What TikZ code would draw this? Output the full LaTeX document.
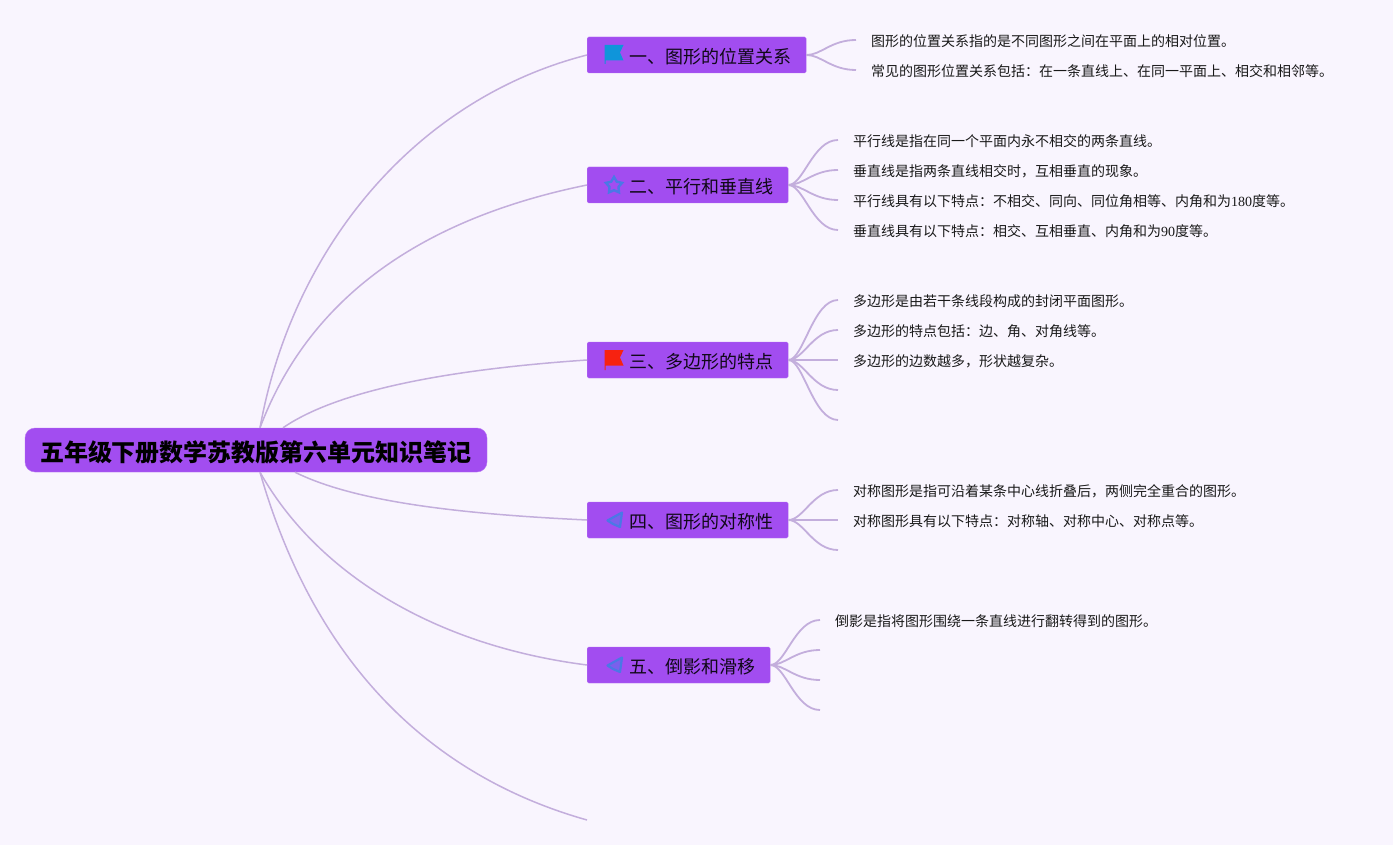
\documentclass[tikz,border=0pt]{standalone}
\usepackage{fontspec}
\setmainfont{Noto Sans CJK SC}
\newfontfamily\numfont{Liberation Serif}
\usetikzlibrary{shapes.geometric}
\definecolor{pagebg}{HTML}{F9F5FE}
\definecolor{boxfill}{HTML}{A24DF0}
\definecolor{boxline}{HTML}{B673F2}
\definecolor{edgeline}{HTML}{C3AEDC}
\definecolor{flagblue}{HTML}{0F95DA}
\definecolor{flagred}{HTML}{F72210}
\definecolor{iconblue}{HTML}{4A78E6}
\tikzset{
  root/.style={draw=boxline,fill=boxfill,rounded corners=10pt,inner xsep=15pt,inner ysep=0pt,minimum height=44pt,text height=23.2pt,text depth=0pt,font=\fontsize{24}{28}\selectfont\bfseries},
  branch/.style={anchor=west,draw=boxline,fill=boxfill,rounded corners=1.5pt,inner xsep=0pt,inner ysep=0pt,minimum height=36pt,text height=16.6pt,text depth=0pt,text=black!90!boxfill,font=\fontsize{18}{22}\selectfont,execute at begin node=\hspace{42pt},execute at end node=\hspace{15pt}},
  leaf/.style={anchor=west,inner xsep=15pt,inner ysep=0pt,text height=13.6pt,text depth=0pt,text=black!90,font=\fontsize{14}{18}\selectfont},
  edge/.style={draw=edgeline,line width=1.5pt},
  sub/.style={draw=edgeline,line width=1.8pt},
  icon/.style={draw=iconblue,fill=iconblue!45!boxfill,line width=2.2pt,line join=round},
}
\begin{document}
\begin{tikzpicture}[x=1pt,y=-1pt]
  \fill[pagebg] (0,0) rectangle (1393,845);

  \node (root) at (256,450)[root]{五年级下册数学苏教版第六单元知识笔记};

  \node (one) at (587,55)[branch]{一、图形的位置关系};
  \node (two) at (587,185)[branch]{二、平行和垂直线};
  \node (three) at (587,360)[branch]{三、多边形的特点};
  \node (four) at (587,520)[branch]{四、图形的对称性};
  \node (five) at (587,665)[branch]{五、倒影和滑移};
  \coordinate (six) at (587,820);

  \node (a1) at (856,40)[leaf]{图形的位置关系指的是不同图形之间在平面上的相对位置。};
  \node (a2) at (856,70)[leaf]{常见的图形位置关系包括：在一条直线上、在同一平面上、相交和相邻等。};

  \node (b1) at (838,140)[leaf]{平行线是指在同一个平面内永不相交的两条直线。};
  \node (b2) at (838,170)[leaf]{垂直线是指两条直线相交时，互相垂直的现象。};
  \node (b3) at (838,200)[leaf]{平行线具有以下特点：不相交、同向、同位角相等、内角和为{\numfont 180}度等。};
  \node (b4) at (838,230)[leaf]{垂直线具有以下特点：相交、互相垂直、内角和为{\numfont 90}度等。};

  \node (c1) at (838,300)[leaf]{多边形是由若干条线段构成的封闭平面图形。};
  \node (c2) at (838,330)[leaf]{多边形的特点包括：边、角、对角线等。};
  \node (c3) at (838,360)[leaf]{多边形的边数越多，形状越复杂。};
  \coordinate (c4) at (838,390);
  \coordinate (c5) at (838,420);

  \node (d1) at (838,490)[leaf]{对称图形是指可沿着某条中心线折叠后，两侧完全重合的图形。};
  \node (d2) at (838,520)[leaf]{对称图形具有以下特点：对称轴、对称中心、对称点等。};
  \coordinate (d3) at (838,550);

  \node (e1) at (820,620)[leaf]{倒影是指将图形围绕一条直线进行翻转得到的图形。};
  \coordinate (e2) at (820,650);
  \coordinate (e3) at (820,680);
  \coordinate (e4) at (820,710);

  \draw[edge]([xshift=4pt]root.north) .. controls (293,245) and (418,98) .. (one.west);
  \draw[edge]([xshift=4pt]root.north) .. controls (310,295) and (425,218) .. (two.west);
  \draw[edge]([xshift=27pt]root.north) .. controls (335,392) and (440,370) .. (three.west);
  \draw[edge]([xshift=39pt]root.south) .. controls (355,502) and (460,514) .. (four.west);
  \draw[edge]([xshift=4pt]root.south) .. controls (315,570) and (430,645) .. (five.west);
  \draw[edge]([xshift=4pt]root.south) .. controls (308,640) and (410,770) .. (six);

  \draw[sub](one.east) .. controls +(15,0) and +(-25,0) .. (a1.west);
  \draw[sub](one.east) .. controls +(15,0) and +(-25,0) .. (a2.west);
  \draw[sub](two.east) .. controls +(15,0) and +(-25,0) .. (b1.west);
  \draw[sub](two.east) .. controls +(15,0) and +(-25,0) .. (b2.west);
  \draw[sub](two.east) .. controls +(15,0) and +(-25,0) .. (b3.west);
  \draw[sub](two.east) .. controls +(15,0) and +(-25,0) .. (b4.west);
  \draw[sub](three.east) .. controls +(15,0) and +(-25,0) .. (c1.west);
  \draw[sub](three.east) .. controls +(15,0) and +(-25,0) .. (c2.west);
  \draw[sub](three.east) -- (c3.west);
  \draw[sub](three.east) .. controls +(15,0) and +(-25,0) .. (c4);
  \draw[sub](three.east) .. controls +(15,0) and +(-25,0) .. (c5);
  \draw[sub](four.east) .. controls +(15,0) and +(-25,0) .. (d1.west);
  \draw[sub](four.east) -- (d2.west);
  \draw[sub](four.east) .. controls +(15,0) and +(-25,0) .. (d3);
  \draw[sub](five.east) .. controls +(15,0) and +(-25,0) .. (e1.west);
  \draw[sub](five.east) .. controls +(15,0) and +(-25,0) .. (e2);
  \draw[sub](five.east) .. controls +(15,0) and +(-25,0) .. (e3);
  \draw[sub](five.east) .. controls +(15,0) and +(-25,0) .. (e4);

  \fill[flagblue] (604.5,45)--(623.5,45)--(620,52.5)--(623.5,60.5)--(605.5,60.5)--(605.5,64)--(604.5,64)--cycle;
  \fill[flagred] (604.5,350)--(623.5,350)--(620,357.5)--(623.5,365.5)--(605.5,365.5)--(605.5,370)--(604.5,370)--cycle;
  \node (staricon) at (614,185.5)[star,star points=5,star point ratio=1.8,draw=iconblue,line width=2.4pt,minimum size=17pt,inner sep=0pt]{};
  \draw[icon] (622,512.5)--(607.5,520.5)--(613,524)--(620,527)--cycle;
  \draw[icon] (622,657.5)--(607.5,665.5)--(613,669)--(620,672)--cycle;
\end{tikzpicture}
\end{document}
